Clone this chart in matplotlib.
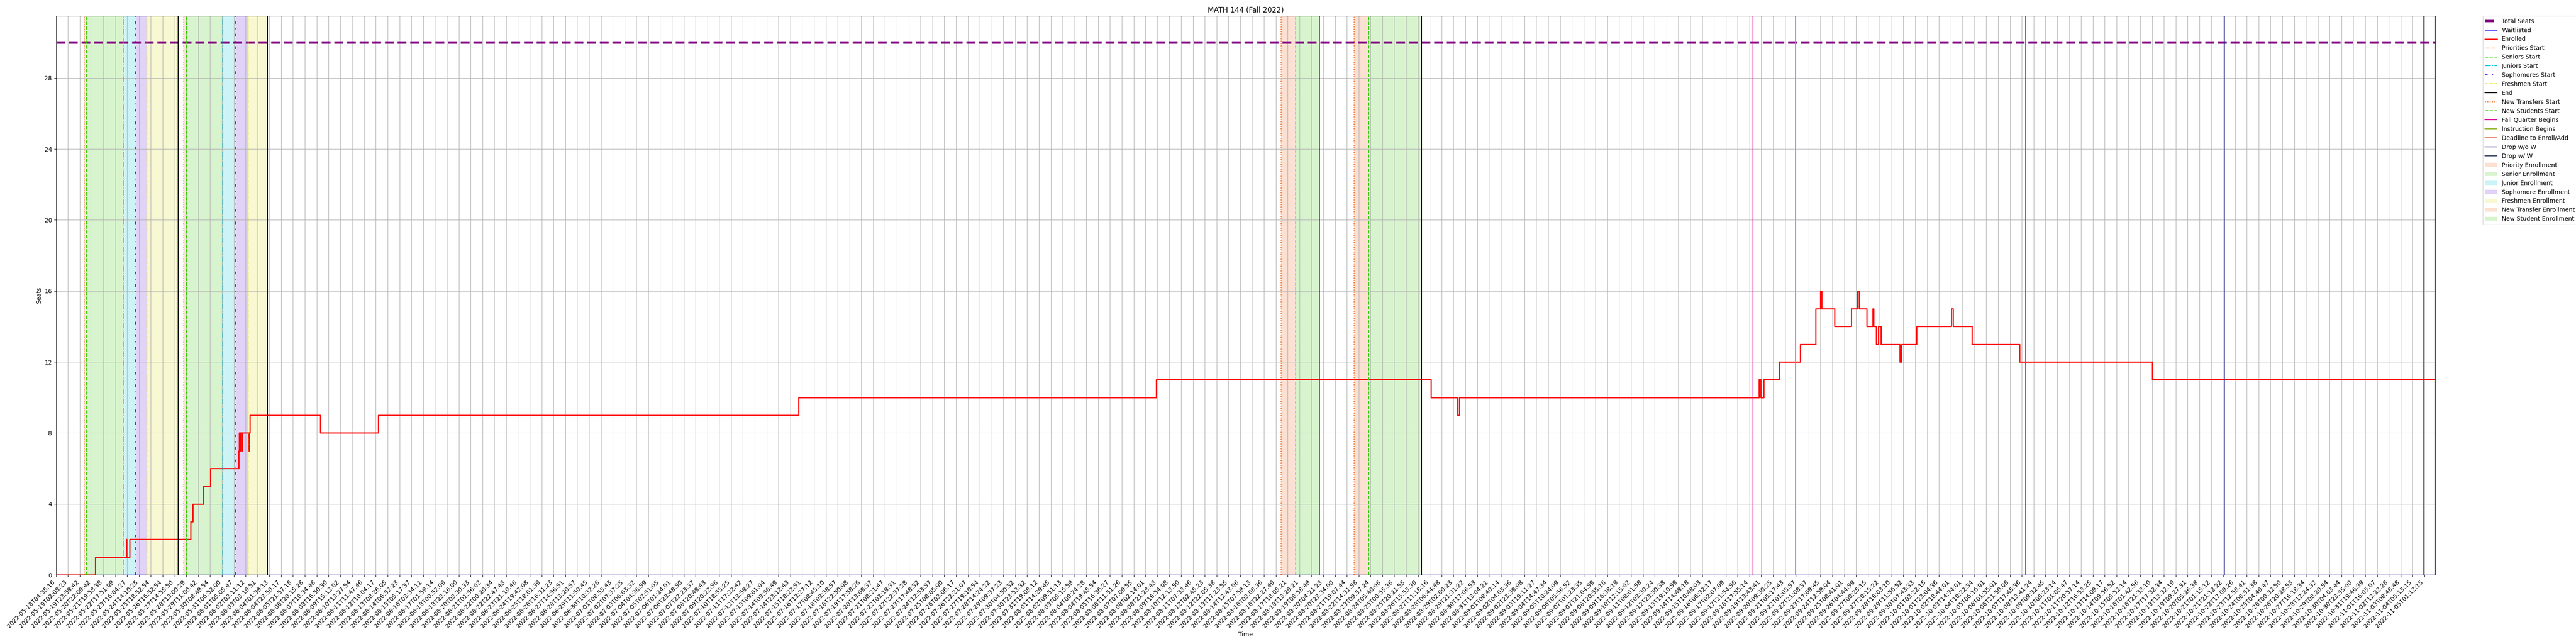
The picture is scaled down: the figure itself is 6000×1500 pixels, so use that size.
import matplotlib
matplotlib.use("Agg")
import matplotlib.pyplot as plt
from matplotlib.patches import Patch

# x positions are in units of labelled sample ticks (0 = first tick label)
tick_labels = [
    "2022-05-18T04:35:16", "2022-05-19T02:08:23", "2022-05-19T23:59:42", "2022-05-20T22:09:42",
    "2022-05-21T19:58:38", "2022-05-22T17:51:09", "2022-05-23T16:04:27", "2022-05-24T14:10:25",
    "2022-05-25T18:52:54", "2022-05-26T16:52:54", "2022-05-27T14:55:50", "2022-05-28T13:00:29",
    "2022-05-29T11:00:42", "2022-05-30T08:49:54", "2022-05-31T06:52:00", "2022-06-01T05:05:47",
    "2022-06-02T03:11:12", "2022-06-03T03:19:51", "2022-06-04T01:39:13", "2022-06-04T23:50:17",
    "2022-06-05T21:57:18", "2022-06-06T20:15:28", "2022-06-07T18:34:48", "2022-06-08T16:50:30",
    "2022-06-09T15:12:02", "2022-06-10T13:27:54", "2022-06-11T11:47:46", "2022-06-12T10:04:17",
    "2022-06-13T08:26:05", "2022-06-14T06:52:23", "2022-06-15T05:17:37", "2022-06-16T03:34:11",
    "2022-06-17T01:59:14", "2022-06-18T00:52:09", "2022-06-18T23:16:00", "2022-06-20T03:30:33",
    "2022-06-21T01:56:02", "2022-06-22T00:20:34", "2022-06-22T22:47:43", "2022-06-23T21:10:46",
    "2022-06-24T19:42:08", "2022-06-25T18:01:39", "2022-06-26T16:31:23", "2022-06-27T14:56:51",
    "2022-06-28T13:20:57", "2022-06-29T11:50:45", "2022-06-30T10:32:26", "2022-07-01T08:55:43",
    "2022-07-02T07:37:25", "2022-07-03T06:03:32", "2022-07-04T04:36:59", "2022-07-05T02:51:05",
    "2022-07-06T01:24:01", "2022-07-06T23:48:50", "2022-07-07T22:23:37", "2022-07-08T20:49:43",
    "2022-07-09T20:22:56", "2022-07-10T18:55:25", "2022-07-11T17:22:42", "2022-07-12T13:59:27",
    "2022-07-13T09:01:04", "2022-07-14T03:56:49", "2022-07-14T23:12:43", "2022-07-15T18:22:51",
    "2022-07-16T13:27:12", "2022-07-17T08:45:10", "2022-07-18T03:38:57", "2022-07-18T22:50:08",
    "2022-07-19T17:58:26", "2022-07-20T13:09:37", "2022-07-21T08:21:47", "2022-07-22T03:19:31",
    "2022-07-22T22:37:28", "2022-07-23T17:48:32", "2022-07-24T12:53:57", "2022-07-25T08:05:00",
    "2022-07-26T03:06:17", "2022-07-26T22:21:07", "2022-07-27T19:10:54", "2022-07-28T14:24:22",
    "2022-07-29T09:37:23", "2022-07-30T04:50:32", "2022-07-30T23:53:32", "2022-07-31T19:08:12",
    "2022-08-01T14:29:45", "2022-08-02T09:51:13", "2022-08-03T05:15:59", "2022-08-04T00:24:28",
    "2022-08-04T19:45:54", "2022-08-05T16:36:27", "2022-08-06T11:51:26", "2022-08-07T07:09:55",
    "2022-08-08T02:14:01", "2022-08-08T21:28:43", "2022-08-09T16:54:08", "2022-08-10T12:13:50",
    "2022-08-11T07:33:46", "2022-08-12T02:45:23", "2022-08-12T22:05:38", "2022-08-13T17:23:55",
    "2022-08-14T12:43:06", "2022-08-15T07:59:13", "2022-08-16T03:08:36", "2022-08-16T22:27:49",
    "2022-08-17T18:05:21", "2022-08-18T13:29:21", "2022-08-19T08:58:49", "2022-08-20T04:21:23",
    "2022-08-20T23:34:00", "2022-08-21T19:07:44", "2022-08-22T14:31:58", "2022-08-23T09:57:24",
    "2022-08-24T05:40:06", "2022-08-25T00:55:36", "2022-08-25T20:21:55", "2022-08-26T15:53:39",
    "2022-08-27T11:18:16", "2022-08-28T06:44:48", "2022-08-29T02:00:23", "2022-08-29T21:31:22",
    "2022-08-30T17:06:53", "2022-08-31T13:04:21", "2022-09-01T08:40:14", "2022-09-02T04:03:36",
    "2022-09-02T23:39:08", "2022-09-03T19:11:27", "2022-09-04T14:47:34", "2022-09-05T10:24:09",
    "2022-09-06T05:56:52", "2022-09-07T01:23:35", "2022-09-07T21:04:59", "2022-09-08T20:55:16",
    "2022-09-09T16:38:19", "2022-09-10T12:15:02", "2022-09-11T08:01:58", "2022-09-12T03:30:24",
    "2022-09-12T23:30:38", "2022-09-13T19:10:59", "2022-09-14T14:49:18", "2022-09-15T10:48:03",
    "2022-09-16T06:32:17", "2022-09-17T02:07:09", "2022-09-17T21:54:56", "2022-09-18T17:55:14",
    "2022-09-19T13:43:41", "2022-09-20T09:30:25", "2022-09-21T05:17:43", "2022-09-22T01:05:57",
    "2022-09-22T21:08:37", "2022-09-23T17:09:45", "2022-09-24T12:59:04", "2022-09-25T08:41:01",
    "2022-09-26T04:44:59", "2022-09-27T00:25:15", "2022-09-27T20:15:22", "2022-09-28T16:03:10",
    "2022-09-29T11:56:52", "2022-09-30T07:43:33", "2022-10-01T03:22:15", "2022-10-01T23:04:36",
    "2022-10-02T18:44:01", "2022-10-03T14:34:01", "2022-10-04T10:22:34", "2022-10-05T06:16:01",
    "2022-10-06T01:55:01", "2022-10-06T21:50:08", "2022-10-07T17:45:36", "2022-10-08T13:41:24",
    "2022-10-09T09:32:45", "2022-10-10T05:23:14", "2022-10-11T01:05:47", "2022-10-11T20:57:14",
    "2022-10-12T16:53:25", "2022-10-13T14:09:17", "2022-10-14T09:56:52", "2022-10-15T05:52:14",
    "2022-10-16T01:42:56", "2022-10-16T21:33:10", "2022-10-17T17:32:34", "2022-10-18T13:32:19",
    "2022-10-19T09:27:31", "2022-10-20T05:26:38", "2022-10-21T01:15:12", "2022-10-21T21:12:22",
    "2022-10-22T17:09:26", "2022-10-23T12:58:41", "2022-10-24T08:51:38", "2022-10-25T04:49:47",
    "2022-10-26T00:32:50", "2022-10-26T20:28:53", "2022-10-27T16:18:34", "2022-10-28T12:24:32",
    "2022-10-29T08:20:54", "2022-10-30T04:03:44", "2022-10-30T23:55:00", "2022-10-31T19:46:39",
    "2022-11-01T16:05:07", "2022-11-02T12:22:28", "2022-11-03T08:48:48", "2022-11-04T05:13:15",
    "2022-11-05T01:12:15",
]

x_end = 200.9
total_seats = 30

enrolled_x = [0, 3.29, 5.90, 5.96, 6.21, 11.37, 11.55, 12.44, 13.02,
              15.41, 15.47, 15.52, 15.57, 15.66, 15.72, 16.24, 16.30, 16.37,
              22.3, 27.2, 62.7, 92.9, 116.1, 118.35, 118.5,
              143.8, 143.95, 144.2, 145.5, 147.3, 148.6, 149.0, 149.1, 150.2,
              151.6, 152.1, 152.25, 152.9, 153.4, 153.5, 153.7, 153.9, 154.1,
              154.8, 155.7, 155.85, 157.1, 160.05, 160.2, 161.8, 165.8, 177.0, x_end]
enrolled_vals = [0, 1, 2, 1, 2, 3, 4, 5, 6,
                 7, 8, 7, 8, 7, 8, 7, 8, 9,
                 8, 9, 10, 11, 10, 9, 10,
                 11, 10, 11, 12, 13, 15, 16, 15, 14,
                 15, 16, 15, 14, 15, 14, 13, 14, 13,
                 13, 12, 13, 14, 15, 14, 13, 12, 11, 11]

waitlist_x = [0, x_end]
waitlist_vals = [0, 0]

priorities_start = [2.35, 10.76]
seniors_start = [2.53, 10.99]
juniors_start = [5.65, 14.06]
sophomores_start = [6.73, 15.16]
freshmen_start = [7.64, 16.21]
round_end = [10.32, 17.85, 106.66, 115.29]
transfers_start = [103.45, 109.61]
new_students_start = [104.68, 110.84]
fall_quarter_begins = 143.3
instruction_begins = 146.9
deadline_add = 166.3
drop_no_w = 183.1
drop_w = 199.9

c_priority = "#f26b21"
c_senior = "#3ccc0c"
c_junior = "#00c8d8"
c_soph = "#6a22dd"
c_fresh = "#dede1e"

fig, ax = plt.subplots(figsize=(60, 15), dpi=100)
fig.subplots_adjust(left=0.0218, right=0.9453, top=0.9753, bottom=0.1073)

ax.axhline(total_seats, color="purple", linestyle="--", linewidth=4, label="Total Seats")
ax.step(waitlist_x, waitlist_vals, where="post", color="blue", linewidth=1, label="Waitlisted")
ax.step(enrolled_x, enrolled_vals, where="post", color="red", linewidth=2, label="Enrolled")

for i in range(2):
    ax.axvline(priorities_start[i], color=c_priority, linestyle=":", linewidth=1.5,
               label="Priorities Start" if i == 0 else None)
    ax.axvline(seniors_start[i], color=c_senior, linestyle="--", linewidth=1.5,
               label="Seniors Start" if i == 0 else None)
    ax.axvline(juniors_start[i], color=c_junior, linestyle="-.", linewidth=1.5,
               label="Juniors Start" if i == 0 else None)
    ax.axvline(sophomores_start[i], color=c_soph, linestyle=(0, (3, 5, 1, 5)), linewidth=1.5,
               label="Sophomores Start" if i == 0 else None)
    ax.axvline(freshmen_start[i], color=c_fresh, linestyle=(0, (3, 1, 1, 1)), linewidth=1.5,
               label="Freshmen Start" if i == 0 else None)
    ax.axvline(round_end[i], color="black", linewidth=1.5, label="End" if i == 0 else None)

for i in range(2):
    ax.axvline(transfers_start[i], color=c_priority, linestyle=":", linewidth=1.5,
               label="New Transfers Start" if i == 0 else None)
    ax.axvline(new_students_start[i], color=c_senior, linestyle="--", linewidth=1.5,
               label="New Students Start" if i == 0 else None)
    ax.axvline(round_end[i + 2], color="black", linewidth=1.5)

ax.axvline(fall_quarter_begins, color="#e0119d", linewidth=1.5, label="Fall Quarter Begins")
ax.axvline(instruction_begins, color="#8db31e", linewidth=1.5, label="Instruction Begins")
ax.axvline(deadline_add, color="#d9431e", linewidth=1.5, label="Deadline to Enroll/Add")
ax.axvline(drop_no_w, color="#2e2a8c", linewidth=1.5, label="Drop w/o W")
ax.axvline(drop_w, color="#2f3c5c", linewidth=1.5, label="Drop w/ W")

for i in range(2):
    ax.axvspan(priorities_start[i], seniors_start[i], color=c_priority, alpha=0.2, lw=0)
    ax.axvspan(seniors_start[i], juniors_start[i], color=c_senior, alpha=0.2, lw=0)
    ax.axvspan(juniors_start[i], sophomores_start[i], color=c_junior, alpha=0.2, lw=0)
    ax.axvspan(sophomores_start[i], freshmen_start[i], color=c_soph, alpha=0.2, lw=0)
    ax.axvspan(freshmen_start[i], round_end[i], color=c_fresh, alpha=0.2, lw=0)
    ax.axvspan(transfers_start[i], new_students_start[i], color=c_priority, alpha=0.2, lw=0)
    ax.axvspan(new_students_start[i], round_end[i + 2], color=c_senior, alpha=0.2, lw=0)

handles, labels = ax.get_legend_handles_labels()
span_items = [("Priority Enrollment", c_priority), ("Senior Enrollment", c_senior),
              ("Junior Enrollment", c_junior), ("Sophomore Enrollment", c_soph),
              ("Freshmen Enrollment", c_fresh), ("New Transfer Enrollment", c_priority),
              ("New Student Enrollment", c_senior)]
for name, col in span_items:
    handles.append(Patch(facecolor=col, alpha=0.2))
    labels.append(name)
ax.legend(handles, labels, loc="upper left", bbox_to_anchor=(1.02, 1), borderaxespad=0)

ax.set_xticks(range(len(tick_labels)))
ax.set_xticklabels(tick_labels, rotation=45, ha="right")
ax.set_xlim(0, x_end)
ax.set_ylim(0, total_seats * 1.05)
ax.set_yticks(range(0, 29, 4))
ax.grid(True)
ax.set_title("MATH 144 (Fall 2022)")
ax.set_xlabel("Time")
ax.set_ylabel("Seats")

fig.savefig("out.png", dpi=100)
